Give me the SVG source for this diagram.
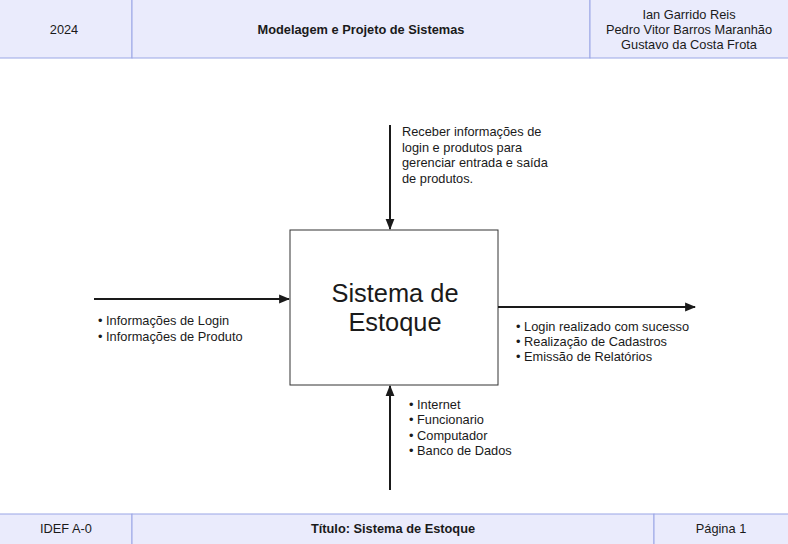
<svg xmlns="http://www.w3.org/2000/svg" width="788" height="544" viewBox="0 0 788 544">
<defs>
<style>
.hdr{fill:#EAEBFC;stroke:#9AA6E6;stroke-width:1}
.t{font-family:"Liberation Sans",Arial,sans-serif;font-size:12.8px;fill:#1a1a1a}
.b{font-weight:bold}
.c{text-anchor:middle}
.big{font-family:"Liberation Sans",Arial,sans-serif;font-size:25.4px;fill:#1a1a1a;text-anchor:middle}
.conn{stroke:#1a1a1a;stroke-width:2;fill:none}
</style>
<marker id="ah" viewBox="0 0 10 10" refX="9" refY="5" markerWidth="5.5" markerHeight="5.5" orient="auto" markerUnits="strokeWidth">
<path d="M0,1 L10,5 L0,9 Z" fill="#1a1a1a"/>
</marker>
</defs>
<rect width="788" height="544" fill="#ffffff"/>
<g id="header">
<rect class="hdr" x="-1" y="-1" width="133" height="59"/>
<rect class="hdr" x="132" y="-1" width="458" height="59"/>
<rect class="hdr" x="590" y="-1" width="199" height="59"/>
<text class="t c" x="64" y="34">2024</text>
<text class="t b c" x="361" y="34">Modelagem e Projeto de Sistemas</text>
<text class="t c" x="689" y="19">Ian Garrido Reis</text>
<text class="t c" x="689" y="34">Pedro Vitor Barros Maranhão</text>
<text class="t c" x="689" y="49">Gustavo da Costa Frota</text>
</g>
<g id="footer">
<rect class="hdr" x="-1" y="514" width="133" height="31"/>
<rect class="hdr" x="132" y="514" width="522" height="31"/>
<rect class="hdr" x="654" y="514" width="135" height="31"/>
<text class="t c" x="66" y="533">IDEF A-0</text>
<text class="t b c" x="393" y="533">Título: Sistema de Estoque</text>
<text class="t c" x="721" y="533">Página 1</text>
</g>
<g id="process">
<rect x="290" y="230" width="208" height="155" fill="#ffffff" stroke="#333333" stroke-width="1"/>
<text class="big" x="395" y="302">Sistema de</text>
<text class="big" x="395" y="331">Estoque</text>
</g>
<g id="connectors">
<line class="conn" x1="390" y1="125" x2="390" y2="229" marker-end="url(#ah)"/>
<line class="conn" x1="94" y1="299" x2="289" y2="299" marker-end="url(#ah)"/>
<line class="conn" x1="498" y1="307" x2="695" y2="307" marker-end="url(#ah)"/>
<line class="conn" x1="390" y1="490" x2="390" y2="386" marker-end="url(#ah)"/>
</g>
<g id="control-label">
<text class="t" x="402" y="136">Receber informações de</text>
<text class="t" x="402" y="152">login e produtos para</text>
<text class="t" x="402" y="167">gerenciar entrada e saída</text>
<text class="t" x="402" y="183">de produtos.</text>
</g>
<g id="input-label">
<text class="t" x="98" y="325">• Informações de Login</text>
<text class="t" x="98" y="341">• Informações de Produto</text>
</g>
<g id="output-label">
<text class="t" x="516" y="331">• Login realizado com sucesso</text>
<text class="t" x="516" y="346">• Realização de Cadastros</text>
<text class="t" x="516" y="361">• Emissão de Relatórios</text>
</g>
<g id="mechanism-label">
<text class="t" x="409" y="409">• Internet</text>
<text class="t" x="409" y="424">• Funcionario</text>
<text class="t" x="409" y="440">• Computador</text>
<text class="t" x="409" y="455">• Banco de Dados</text>
</g>
</svg>
